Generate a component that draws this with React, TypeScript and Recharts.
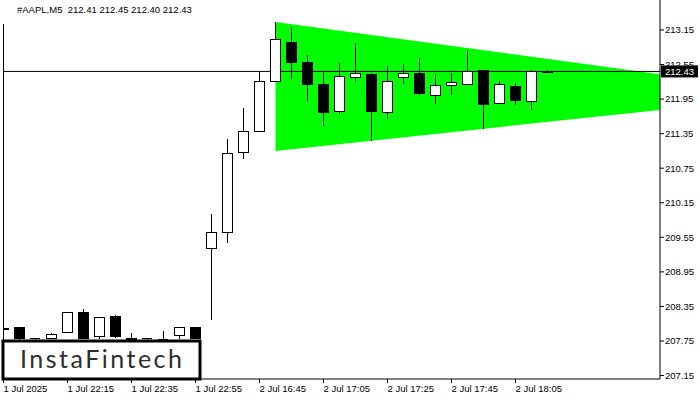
import { ComposedChart, Bar, Area, XAxis, YAxis, ReferenceLine } from "recharts";

// M5 bars, 1 Jul 21:55 .. 2 Jul 18:15
const times = [
  "1 Jul 21:55", "1 Jul 22:00", "1 Jul 22:05", "1 Jul 22:10", "1 Jul 22:15",
  "1 Jul 22:20", "1 Jul 22:25", "1 Jul 22:30", "1 Jul 22:35", "1 Jul 22:40",
  "1 Jul 22:45", "1 Jul 22:50", "1 Jul 22:55", "2 Jul 16:30", "2 Jul 16:35",
  "2 Jul 16:40", "2 Jul 16:45", "2 Jul 16:50", "2 Jul 16:55", "2 Jul 17:00",
  "2 Jul 17:05", "2 Jul 17:10", "2 Jul 17:15", "2 Jul 17:20", "2 Jul 17:25",
  "2 Jul 17:30", "2 Jul 17:35", "2 Jul 17:40", "2 Jul 17:45", "2 Jul 17:50",
  "2 Jul 17:55", "2 Jul 18:00", "2 Jul 18:05", "2 Jul 18:10", "2 Jul 18:15",
];
const opens = [
  207.97, 207.99, 207.79, 207.79, 207.89, 208.25, 207.82, 208.17, 207.8, 207.79,
  207.78, 207.84, 207.98, 209.35, 209.63, 211.03, 211.38, 212.26, 212.94, 212.59,
  212.21, 211.73, 212.33, 212.37, 211.71, 212.32, 212.4, 212.02, 212.18, 212.2,
  212.44, 211.88, 212.16, 211.9, 212.41,
];
const highs = [
  208.15, 208.0, 207.8, 207.89, 208.25, 208.31, 208.17, 208.2, 207.89, 207.8,
  207.92, 207.99, 207.99, 209.96, 211.26, 211.8, 212.42, 213.29, 213.2, 212.72,
  212.42, 212.58, 212.92, 212.4, 212.52, 212.56, 212.66, 212.39, 212.4, 212.8,
  212.46, 212.26, 212.23, 212.46, 212.45,
];
const lows = [
  207.89, 207.77, 207.77, 207.78, 207.88, 207.78, 207.79, 207.8, 207.77, 207.77,
  207.77, 207.79, 207.79, 208.12, 209.45, 210.91, 211.38, 212.26, 212.3, 211.92,
  211.48, 211.69, 212.25, 211.22, 211.6, 212.21, 212.02, 211.87, 212.02, 212.2,
  211.43, 211.88, 211.85, 211.76, 212.4,
];
const closes = [
  207.95, 207.79, 207.78, 207.87, 208.24, 207.8, 208.15, 207.82, 207.77, 207.78,
  207.78, 207.99, 207.79, 209.63, 211.01, 211.38, 212.25, 212.99, 212.58, 212.21,
  211.71, 212.35, 212.39, 211.73, 212.26, 212.4, 212.04, 212.18, 212.23, 212.42,
  211.85, 212.2, 211.92, 212.42, 212.43,
];

const xTicks = [0, 4, 8, 12, 16, 20, 24, 28, 32];
const xTickLabels = [
  "1 Jul 2025", "1 Jul 22:15", "1 Jul 22:35", "1 Jul 22:55", "2 Jul 16:45",
  "2 Jul 17:05", "2 Jul 17:25", "2 Jul 17:45", "2 Jul 18:05",
];
const yTicks = [
  207.15, 207.75, 208.35, 208.95, 209.55, 210.15, 210.75, 211.35, 211.95, 212.55, 213.15,
];

// symmetrical triangle (runs past the right edge, clipped)
const triBars = [17, 44];
const triUpper = [213.29, 212.27];
const triLower = [211.05, 211.85];

const lastPrice = 212.43;
const header = "#AAPL,M5  212.41 212.45 212.40 212.43";

const candles = times.map((t, i) => ({
  i,
  time: t,
  open: opens[i],
  high: highs[i],
  low: lows[i],
  close: closes[i],
}));
const triangle = triBars.map((i, k) => ({ i, band: [triLower[k], triUpper[k]] }));

const FONT = "Tahoma, 'Liberation Sans', sans-serif";

function Candle(props: any) {
  const { x, y, width, height, payload } = props;
  if (x == null || !payload) return null;
  const top = Math.min(y, y + height);
  const bot = Math.max(y, y + height);
  const k = (bot - top) / (payload.high - payload.low);
  const py = (p: number) => top + (payload.high - p) * k;
  const cx = x + width / 2;
  const up = payload.close >= payload.open;
  const y1 = py(Math.max(payload.open, payload.close));
  const y2 = py(Math.min(payload.open, payload.close));
  return (
    <g shapeRendering="crispEdges">
      <line x1={cx} x2={cx} y1={top} y2={bot} stroke="#000" />
      {y2 - y1 < 1 ? (
        <line x1={cx - 5} x2={cx + 5} y1={y1} y2={y1} stroke="#000" />
      ) : (
        <rect
          x={cx - 5}
          y={y1}
          width={10}
          height={y2 - y1}
          fill={up ? "#fff" : "#000"}
          stroke="#000"
        />
      )}
    </g>
  );
}

function XTick(props: any) {
  const { x, y, payload } = props;
  const label = xTickLabels[xTicks.indexOf(payload.value)];
  return (
    <text x={x} y={y} dy="0.71em" textAnchor="start" fontSize={9.5} fontFamily={FONT} fill="#000">
      {label}
    </text>
  );
}

function YTick(props: any) {
  const { x, y, payload } = props;
  return (
    <text x={x} y={y} dy="0.36em" textAnchor="start" fontSize={9.5} fontFamily={FONT} fill="#000">
      {payload.value.toFixed(2)}
    </text>
  );
}

function PriceTag(props: any) {
  const vb = props.viewBox || {};
  const left = vb.x + vb.width + 1;
  return (
    <g>
      <rect x={left} y={vb.y - 6} width={37} height={12} fill="#000" />
      <text x={left + 4} y={vb.y} dy="0.36em" fontSize={9.5} fontFamily={FONT} fill="#fff">
        {lastPrice.toFixed(2)}
      </text>
    </g>
  );
}

export default function App() {
  return (
    <div style={{ position: "absolute", left: 0, top: 0, width: 700, height: 400, background: "#fff" }}>
      <ComposedChart
        width={700}
        height={400}
        data={candles}
        margin={{ top: 0, right: 0, bottom: 0, left: 3 }}
      >
        <XAxis
          dataKey="i"
          type="number"
          domain={[-0.03125, 41.03125]}
          allowDataOverflow
          ticks={xTicks}
          interval={0}
          height={21}
          tickSize={4}
          tickMargin={2}
          axisLine={{ stroke: "#000" }}
          tickLine={{ stroke: "#000" }}
          tick={<XTick />}
        />
        <YAxis
          orientation="right"
          type="number"
          domain={[207.09, 213.67]}
          allowDataOverflow
          ticks={yTicks}
          interval={0}
          width={40}
          tickSize={4}
          tickMargin={1}
          axisLine={{ stroke: "#000" }}
          tickLine={{ stroke: "#000" }}
          tick={<YTick />}
        />
        <Area
          data={triangle}
          dataKey="band"
          type="linear"
          stroke="none"
          fill="#00ff00"
          fillOpacity={1}
          dot={false}
          activeDot={false}
          isAnimationActive={false}
          zIndex={100}
        />
        <ReferenceLine
          y={lastPrice}
          stroke="#000"
          zIndex={200}
          label={{ content: (p: any) => <PriceTag {...p} /> }}
        />
        <Bar
          dataKey={(d: any) => [d.low, d.high]}
          barSize={11}
          shape={<Candle />}
          isAnimationActive={false}
          zIndex={300}
        />
      </ComposedChart>
      <div
        style={{
          position: "absolute",
          left: 17,
          top: 4,
          fontFamily: FONT,
          fontSize: 9.5,
          whiteSpace: "pre",
          color: "#000",
        }}
      >
        {header}
      </div>
      <svg width={210} height={400} style={{ position: "absolute", left: 0, top: 0 }}>
        <line x1={3.5} x2={3.5} y1={24} y2={379} stroke="#000" />
        <rect x={3} y={341} width={197} height={38} fill="#fff" stroke="#000" strokeWidth={3} />
        <text
          x={20}
          y={368}
          fontSize={25}
          fontFamily="Lato, 'Open Sans', sans-serif"
          fill="#2e2e2e"
          textLength={162}
          lengthAdjust="spacing"
        >
          InstaFintech
        </text>
      </svg>
    </div>
  );
}
